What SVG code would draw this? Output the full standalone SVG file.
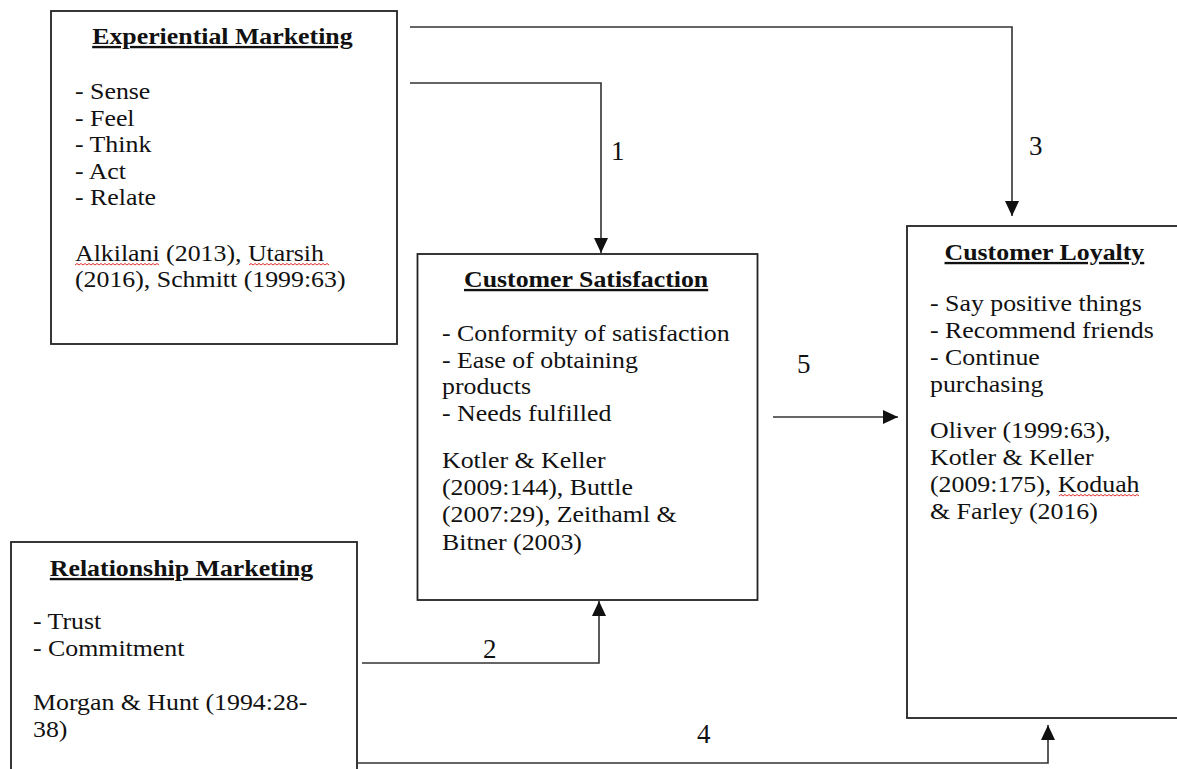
<svg xmlns="http://www.w3.org/2000/svg" width="1177" height="769" viewBox="0 0 1177 769">
<style>
.box{fill:#fff;stroke:#222;stroke-width:1.8}
.t{font-family:"Liberation Serif","Times New Roman",serif;font-size:23.5px;fill:#111}
.h{font-weight:bold;text-anchor:middle;text-decoration:underline}
.c{fill:none;stroke:#333;stroke-width:1.6}
.n{font-family:"Liberation Serif","Times New Roman",serif;font-size:27px;fill:#111}
.sq{fill:none;stroke:#e0302a;stroke-width:1}
</style>
<defs>
<marker id="ah" markerUnits="userSpaceOnUse" markerWidth="16" markerHeight="16" viewBox="0 0 16 16" refX="15" refY="8" orient="auto">
<path d="M0,1 L15,8 L0,15 Z" fill="#111"/>
</marker>
</defs>
<rect width="1177" height="769" fill="#fff"/>

<g id="experiential-marketing">
<rect class="box" x="51" y="11" width="346" height="333"/>
<g transform="translate(75 0) scale(1.1 1)">
<text class="t h" x="134" y="44">Experiential Marketing</text>
<text class="t" x="0" y="99">- Sense</text>
<text class="t" x="0" y="126">- Feel</text>
<text class="t" x="0" y="152">- Think</text>
<text class="t" x="0" y="179">- Act</text>
<text class="t" x="0" y="205">- Relate</text>
<text class="t" x="0" y="261">Alkilani (2013), Utarsih</text>
<text class="t" x="0" y="287">(2016), Schmitt (1999:63)</text>
</g>
<path class="sq" d="M75 265 l2 -1.5 2 1.5 2 -1.5 2 1.5 2 -1.5 2 1.5 2 -1.5 2 1.5 2 -1.5 2 1.5 2 -1.5 2 1.5 2 -1.5 2 1.5 2 -1.5 2 1.5 2 -1.5 2 1.5 2 -1.5 2 1.5 2 -1.5 2 1.5 2 -1.5 2 1.5 2 -1.5 2 1.5 2 -1.5 2 1.5 2 -1.5 2 1.5 2 -1.5 2 1.5 2 -1.5 2 1.5 2 -1.5 2 1.5 2 -1.5 2 1.5 2 -1.5 2 1.5 2 -1.5 2 1.5"/>
<path class="sq" d="M249 265 l2 -1.5 2 1.5 2 -1.5 2 1.5 2 -1.5 2 1.5 2 -1.5 2 1.5 2 -1.5 2 1.5 2 -1.5 2 1.5 2 -1.5 2 1.5 2 -1.5 2 1.5 2 -1.5 2 1.5 2 -1.5 2 1.5 2 -1.5 2 1.5 2 -1.5 2 1.5 2 -1.5 2 1.5 2 -1.5 2 1.5 2 -1.5 2 1.5 2 -1.5 2 1.5 2 -1.5 2 1.5 2 -1.5 2 1.5 2 -1.5 2 1.5 2 -1.5 2 1.5"/>
</g>

<g id="customer-satisfaction">
<rect class="box" x="417.5" y="254" width="340" height="346"/>
<g transform="translate(442 0) scale(1.1 1)">
<text class="t h" x="131" y="287">Customer Satisfaction</text>
<text class="t" x="0" y="341">- Conformity of satisfaction</text>
<text class="t" x="0" y="368">- Ease of obtaining</text>
<text class="t" x="0" y="394">products</text>
<text class="t" x="0" y="421">- Needs fulfilled</text>
<text class="t" x="0" y="468">Kotler &amp; Keller</text>
<text class="t" x="0" y="495">(2009:144), Buttle</text>
<text class="t" x="0" y="522">(2007:29), Zeithaml &amp;</text>
<text class="t" x="0" y="550">Bitner (2003)</text>
</g>
</g>

<g id="customer-loyalty">
<rect class="box" x="907" y="226" width="300" height="492"/>
<g transform="translate(930 0) scale(1.1 1)">
<text class="t h" x="104" y="260">Customer Loyalty</text>
<text class="t" x="0" y="311">- Say positive things</text>
<text class="t" x="0" y="338">- Recommend friends</text>
<text class="t" x="0" y="365">- Continue</text>
<text class="t" x="0" y="392">purchasing</text>
<text class="t" x="0" y="438">Oliver (1999:63),</text>
<text class="t" x="0" y="465">Kotler &amp; Keller</text>
<text class="t" x="0" y="492">(2009:175), Koduah</text>
<text class="t" x="0" y="519">&amp; Farley (2016)</text>
</g>
<path class="sq" d="M1059 496 l2 -1.5 2 1.5 2 -1.5 2 1.5 2 -1.5 2 1.5 2 -1.5 2 1.5 2 -1.5 2 1.5 2 -1.5 2 1.5 2 -1.5 2 1.5 2 -1.5 2 1.5 2 -1.5 2 1.5 2 -1.5 2 1.5 2 -1.5 2 1.5 2 -1.5 2 1.5 2 -1.5 2 1.5 2 -1.5 2 1.5 2 -1.5 2 1.5 2 -1.5 2 1.5 2 -1.5 2 1.5 2 -1.5 2 1.5 2 -1.5 2 1.5 2 -1.5 2 1.5"/>
</g>

<g id="relationship-marketing">
<rect class="box" x="11" y="542" width="346" height="240"/>
<g transform="translate(33 0) scale(1.1 1)">
<text class="t h" x="135" y="576">Relationship Marketing</text>
<text class="t" x="0" y="629">- Trust</text>
<text class="t" x="0" y="656">- Commitment</text>
<text class="t" x="0" y="710">Morgan &amp; Hunt (1994:28-</text>
<text class="t" x="0" y="737">38)</text>
</g>
</g>

<g id="connectors">
<polyline class="c" points="410,83 601,83 601,253" marker-end="url(#ah)"/>
<polyline class="c" points="410,27 1012,27 1012,216" marker-end="url(#ah)"/>
<polyline class="c" points="773,417 898,417" marker-end="url(#ah)"/>
<polyline class="c" points="362,663 599,663 599,601" marker-end="url(#ah)"/>
<polyline class="c" points="357,763 1048,763 1048,725" marker-end="url(#ah)"/>
<text class="n" x="611" y="160">1</text>
<text class="n" x="1029" y="155">3</text>
<text class="n" x="797" y="373">5</text>
<text class="n" x="483" y="658">2</text>
<text class="n" x="697" y="743">4</text>
</g>
</svg>
